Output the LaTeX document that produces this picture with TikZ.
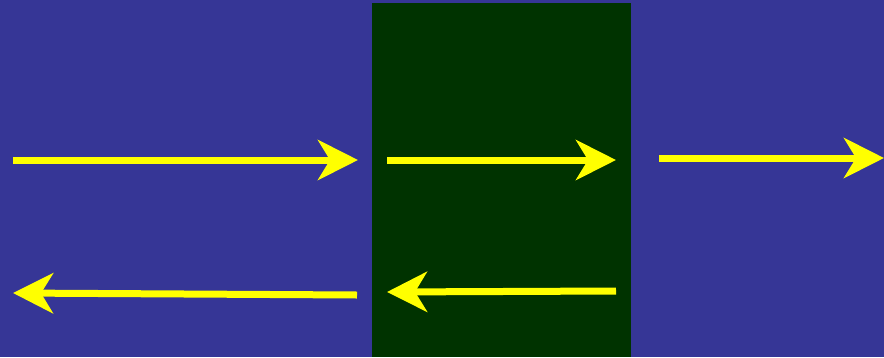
\documentclass[tikz,border=0pt]{standalone}
\usetikzlibrary{arrows.meta}
\definecolor{bgblue}{RGB}{54,54,150}
\definecolor{boxgreen}{RGB}{0,51,0}
\definecolor{arrowyellow}{RGB}{255,255,0}
\tikzset{
  yarrow/.style={draw=arrowyellow, line width=7pt,
    -{Stealth[length=40pt, width=40pt, inset=12pt, fill=arrowyellow]}}
}
\begin{document}
\begin{tikzpicture}[x=1pt, y=-1pt]
  \fill[bgblue] (0,0) rectangle (884,357);
  \useasboundingbox (0,0) rectangle (884,357);
  \fill[boxgreen] (372,3) rectangle (631,357);
  \coordinate (a1s) at (13,160);
  \coordinate (a1e) at (358,160);
  \coordinate (a2s) at (387,160);
  \coordinate (a2e) at (616,160);
  \coordinate (a3s) at (659,158);
  \coordinate (a3e) at (884,158);
  \coordinate (a4s) at (357,295);
  \coordinate (a4e) at (13,293);
  \coordinate (a5s) at (616,291);
  \coordinate (a5e) at (387,292);
  \draw[yarrow] (a1s) -- (a1e);
  \draw[yarrow] (a2s) -- (a2e);
  \draw[yarrow] (a3s) -- (a3e);
  \draw[yarrow] (a4s) -- (a4e);
  \draw[yarrow] (a5s) -- (a5e);
\end{tikzpicture}
\end{document}
